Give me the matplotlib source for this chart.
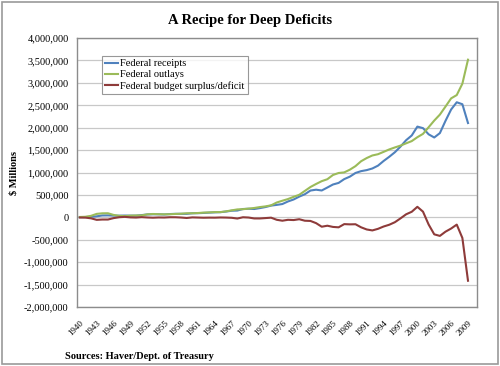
import matplotlib
matplotlib.use("Agg")
import matplotlib.pyplot as plt
from matplotlib.ticker import FuncFormatter, MultipleLocator
from matplotlib.patches import Rectangle

years = list(range(1940, 2010))
receipts = [6548, 8712, 14634, 24001, 43747, 45159, 39296, 38514, 41560, 39415,
            39443, 51616, 66167, 69608, 69701, 65451, 74587, 79990, 79636, 79249,
            92492, 94388, 99676, 106560, 112613, 116817, 130835, 148822, 152973, 186882,
            192807, 187139, 207309, 230799, 263224, 279090, 298060, 355559, 399561, 463302,
            517112, 599272, 617766, 600562, 666438, 734037, 769155, 854288, 909238, 991105,
            1031958, 1054988, 1091208, 1154335, 1258566, 1351790, 1453053, 1579232, 1721728, 1827452,
            2025191, 1991082, 1853136, 1782314, 1880114, 2153611, 2406869, 2567985, 2523991, 2104989]
outlays = [9468, 13653, 35137, 78555, 91304, 92712, 55232, 34496, 29764, 38835,
           42562, 45514, 67686, 76101, 70855, 68444, 70640, 76578, 82405, 92098,
           92191, 97723, 106821, 111316, 118528, 118228, 134532, 157464, 178134, 183640,
           195649, 210172, 230681, 245707, 269359, 332332, 371792, 409218, 458746, 504028,
           590941, 678241, 745743, 808364, 851805, 946344, 990382, 1004017, 1064416, 1143744,
           1252993, 1324226, 1381529, 1409386, 1461752, 1515742, 1560484, 1601116, 1652458, 1701842,
           1788950, 1862846, 2010894, 2159899, 2292841, 2471957, 2655050, 2728686, 2982544, 3517677]
surplus = [-2920, -4941, -20503, -54554, -47557, -47553, -15936, 4018, 11796, 580,
           -3119, 6102, -1519, -6493, -1154, -2993, 3947, 3412, -2769, -12849,
           301, -3335, -7146, -4756, -5915, -1411, -3698, -8643, -25161, 3242,
           -2842, -23033, -23373, -14908, -6135, -53242, -73732, -53659, -59185, -40726,
           -73830, -78968, -127977, -207802, -185367, -212308, -221227, -149730, -155178, -152639,
           -221036, -269238, -290321, -255051, -203186, -163952, -107431, -21884, 69270, 125610,
           236241, 128236, -157758, -377585, -412727, -318346, -248181, -160701, -458553, -1412688]

series_names = ["Federal receipts", "Federal outlays", "Federal budget surplus/deficit"]
colors = ["#4F81BD", "#9BBB59", "#8E3B3A"]

plt.rcParams['font.family'] = ['Liberation Serif', 'DejaVu Serif']

fig = plt.figure(figsize=(5.0, 3.66), dpi=100)
fig.patches.append(Rectangle((0.004, 0.005), 0.992, 0.99, transform=fig.transFigure,
                             fill=False, edgecolor="#9a9a9a", linewidth=1.2))
ax = fig.add_axes([0.154, 0.161, 0.800, 0.735])

x = list(range(len(years)))
for vals, name, c in zip([receipts, outlays, surplus], series_names, colors):
    ax.plot(x, vals, color=c, linewidth=1.5, label=name)

ax.set_xlim(-0.5, 70.6)
ax.set_ylim(-2000000, 4000000)
ax.yaxis.set_major_locator(MultipleLocator(500000))
ax.yaxis.set_major_formatter(FuncFormatter(lambda v, p: f"{int(v):,}"))
ax.grid(axis='y', color="#c8c8c8", linewidth=0.9)
ax.set_axisbelow(True)

tick_pos = list(range(0, len(years), 3))
ax.set_xticks(tick_pos)
ax.set_xticklabels([str(years[i]) for i in tick_pos], rotation=45, ha='right',
                   rotation_mode='anchor', fontsize=6.5)
ax.tick_params(axis='y', labelsize=7.5, length=0, pad=6)
ax.tick_params(axis='x', length=0, pad=9)
for s in ax.spines.values():
    s.set_color("#8c8c8c")
    s.set_linewidth(1.0)

ax.set_ylabel("$ Millions", fontsize=7.5, fontweight='bold', labelpad=4)
fig.text(0.5, 0.943, "A Recipe for Deep Deficits", ha='center', va='center',
         fontsize=10.5, fontweight='bold')
fig.text(0.13, 0.027, "Sources: Haver/Dept. of Treasury", ha='left', va='center',
         fontsize=7.5, fontweight='bold')

leg = ax.legend(loc='upper left', bbox_to_anchor=(0.062, 0.935), fontsize=7.5,
                frameon=True, fancybox=False, edgecolor="#7f7f7f", handlelength=1.2,
                handletextpad=0.2, borderpad=0.35, labelspacing=0.15, borderaxespad=0)
leg.get_frame().set_linewidth(0.8)

fig.savefig("out.png", dpi=100)
